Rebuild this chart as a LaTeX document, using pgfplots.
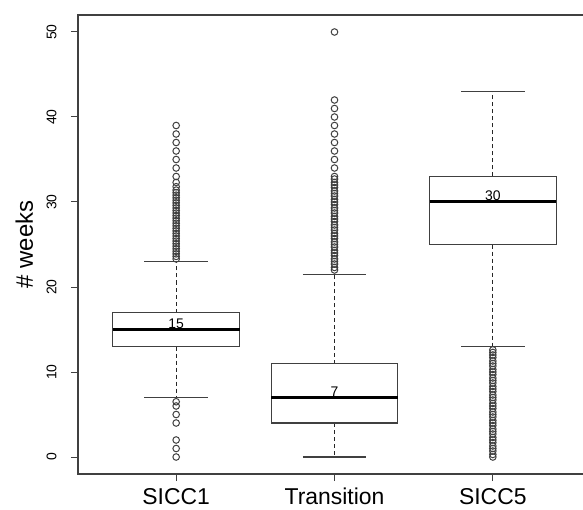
\documentclass[border=0pt]{standalone}
\usepackage{fontspec}
\setmainfont{Liberation Sans}
\usepackage{pgfplots}
\pgfplotsset{compat=1.18}
\usepackage{pgfplotstable}
\usepgfplotslibrary{statistics}

% outliers, one table per group
\pgfplotstableread{
y
6.5
6
5
4
2
1
0
23.3
23.6
23.9
24.2
24.5
24.8
25.1
25.4
25.7
26
26.3
26.6
26.9
27.2
27.5
27.8
28.1
28.4
28.7
29
29.3
29.6
29.9
30.2
30.5
30.8
31.1
31.4
31.8
32.3
33
34
35
36
37
38
39
}\outsicci

\pgfplotstableread{
y
22
22.3
22.7
23
23.3
23.7
24
24.3
24.7
25
25.3
25.7
26
26.3
26.7
27
27.3
27.7
28
28.3
28.7
29
29.3
29.7
30
30.3
30.7
31
31.3
31.7
32
32.3
32.7
33
34
35
36
37
38
39
40
41
42
50
}\outtrans

\pgfplotstableread{
y
0
0.3
0.7
1
1.3
1.7
2
2.3
2.7
3
3.3
3.7
4
4.3
4.7
5
5.3
5.7
6
6.3
6.7
7
7.3
7.7
8
8.3
8.7
9
9.3
9.7
10
10.3
10.7
11
11.3
11.7
12
12.3
12.6
}\outsiccv

\definecolor{rline}{gray}{0.25}

\begin{document}
\begin{tikzpicture}
\begin{axis}[
    width=513bp, height=459bp,
    scale only axis,
    xmin=0.38, xmax=3.62,
    ymin=-2, ymax=52,
    xtick={1,2,3},
    xticklabels={SICC1, Transition, SICC5},
    ytick={0,10,20,30,40,50},
    tick pos=left,
    tick align=outside,
    major tick length=7bp,
    tick style={rline, line width=1bp},
    axis line style={rline, line width=1.2bp},
    /pgf/number format/assume math mode=true,
    xticklabel style={font=\fontsize{23}{26}\selectfont, inner sep=2bp},
    yticklabel style={font=\fontsize{14}{16}\selectfont, rotate=90, anchor=south},
    yticklabel shift=11bp,
    xticklabel shift=5bp,
    ylabel={\# weeks},
    ylabel style={font=\fontsize{24}{28}\selectfont, at={([xshift=-45bp]rel axis cs:0,0.5)}, anchor=base, rotate=0},
    boxplot/draw direction=y,
    boxplot/box extend=0.8,
    boxplot/whisker extend=0.4,
    boxplot/every box/.style={draw=rline, line width=1.2bp, fill=white},
    boxplot/every median/.style={draw=black, line width=3bp},
    boxplot/draw/lower whisker/.code={%
        \draw[black!85, line width=1bp, dash pattern=on 4bp off 3bp]
            (boxplot box cs:\pgfplotsboxplotvalue{lower quartile},0.5)
            -- (boxplot box cs:\pgfplotsboxplotvalue{lower whisker},0.5);
        \draw[rline, line width=1.2bp]
            (boxplot whisker cs:\pgfplotsboxplotvalue{lower whisker},0)
            -- (boxplot whisker cs:\pgfplotsboxplotvalue{lower whisker},1);
    },
    boxplot/draw/upper whisker/.code={%
        \draw[black!85, line width=1bp, dash pattern=on 4bp off 3bp]
            (boxplot box cs:\pgfplotsboxplotvalue{upper quartile},0.5)
            -- (boxplot box cs:\pgfplotsboxplotvalue{upper whisker},0.5);
        \draw[rline, line width=1.2bp]
            (boxplot whisker cs:\pgfplotsboxplotvalue{upper whisker},0)
            -- (boxplot whisker cs:\pgfplotsboxplotvalue{upper whisker},1);
    },
    outlier/.style={draw=rline, mark=o, mark size=3.3bp, mark options={draw=rline, line width=1bp, fill=none}},
]

\addplot[outlier, boxplot prepared={draw position=1,
    lower whisker=7, lower quartile=13, median=15,
    upper quartile=17, upper whisker=23}]
    table[y index=0] {\outsicci};

\addplot[outlier, boxplot prepared={draw position=2,
    lower whisker=0, lower quartile=4, median=7,
    upper quartile=11, upper whisker=21.5}]
    table[y index=0] {\outtrans};

\addplot[outlier, boxplot prepared={draw position=3,
    lower whisker=13, lower quartile=25, median=30,
    upper quartile=33, upper whisker=43}]
    table[y index=0] {\outsiccv};

% median labels
\node[font=\fontsize{14}{16}\selectfont, anchor=base, inner sep=0pt, yshift=1.5bp] at (axis cs:1,15) {15};
\node[font=\fontsize{14}{16}\selectfont, anchor=base, inner sep=0pt, yshift=1.5bp] at (axis cs:2,7) {7};
\node[font=\fontsize{14}{16}\selectfont, anchor=base, inner sep=0pt, yshift=1.5bp] at (axis cs:3,30) {30};

\coordinate (bbsw) at ([xshift=-78bp,yshift=-36bp]rel axis cs:0,0);
\coordinate (bbne) at ([xshift=505bp,yshift=15bp]rel axis cs:0,1);
\end{axis}
\pgfresetboundingbox
\useasboundingbox (bbsw) rectangle (bbne);
\end{tikzpicture}
\end{document}
